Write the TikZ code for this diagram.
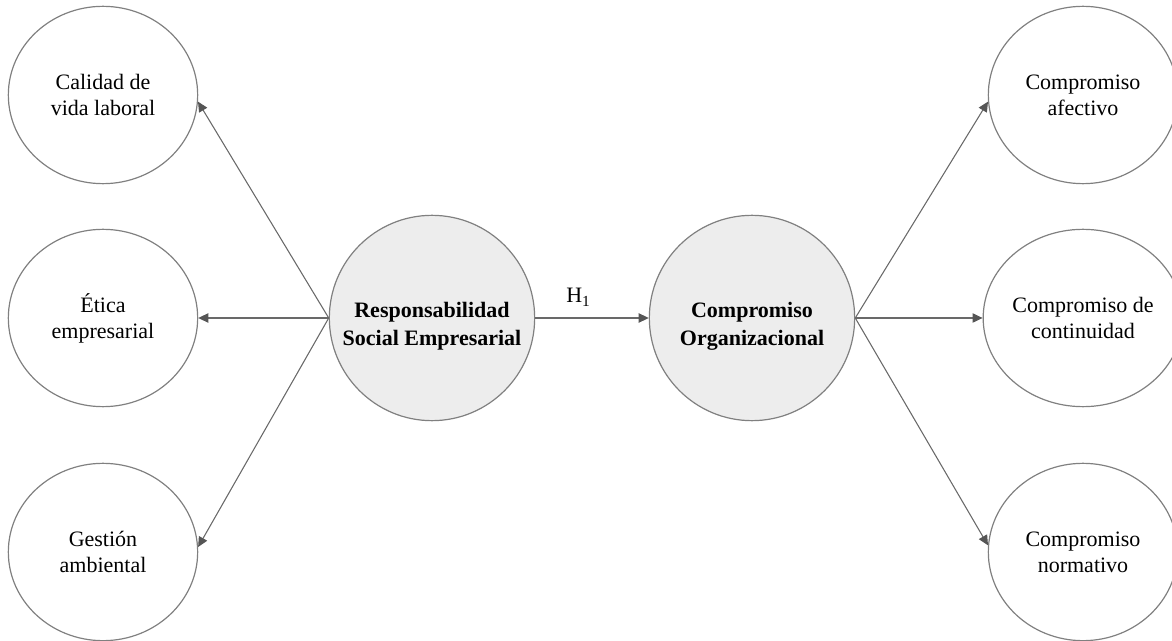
\documentclass[tikz,border=0pt]{standalone}
\usepackage{fontspec}
\setmainfont{Liberation Serif}
\usetikzlibrary{arrows.meta,shapes.geometric}
\definecolor{LineGray}{RGB}{105,105,105}
\definecolor{TipGray}{RGB}{85,85,85}
\definecolor{RingGray}{RGB}{128,128,128}
\definecolor{CoreFill}{RGB}{237,237,237}

\begin{document}
\begin{tikzpicture}[x=0.75pt,y=-0.75pt,
    dim/.style={ellipse, draw=RingGray, line width=0.9pt, minimum width=142pt,
      minimum height=133pt, inner sep=0pt, align=center,
      font=\fontsize{16.5}{19.5}\selectfont},
    core/.style={circle, draw=RingGray, fill=CoreFill, line width=0.9pt,
      minimum size=154pt, inner sep=0pt},
    coretext/.style={align=center, yshift=-6.5pt, inner sep=0pt,
      font=\bfseries\fontsize{16.5}{21}\selectfont},
    link/.style={draw=LineGray, line width=0.8pt,
      -{Triangle[length=7.5pt,width=7pt,color=TipGray]}}]
  \useasboundingbox (0,0) rectangle (1172,641);
  % central constructs
  \node[core, label={[coretext]center:{Responsabilidad\\Social Empresarial}}] (rse) at (432,318) {};
  \node[core, label={[coretext]center:{Compromiso\\Organizacional}}] (co) at (752,318) {};
  % dimensions of RSE
  \node[dim] (calidad) at (103,95) {Calidad de\\vida laboral};
  \node[dim] (etica) at (103,318) {Ética\\empresarial};
  \node[dim] (gestion) at (103,552) {Gestión\\ambiental};
  % dimensions of CO
  \node[dim] (afectivo) at (1083,95) {Compromiso\\afectivo};
  \node[dim] (continuidad) at (1083,318) {Compromiso de\\continuidad};
  \node[dim] (normativo) at (1083,552) {Compromiso\\normativo};
  % arrows
  \draw[link] (rse.west) -- (calidad.-4);
  \draw[link] (rse.west) -- (etica.east);
  \draw[link] (rse.west) -- (gestion.3);
  \draw[link] (rse.east) -- (co.west)
    node[above, pos=0.38, yshift=5pt, font=\fontsize{16.5}{19.5}\selectfont] (h1) {H\textsubscript{1}};
  \draw[link] (co.east) -- (afectivo.184);
  \draw[link] (co.east) -- (continuidad.west);
  \draw[link] (co.east) -- (normativo.176);
\end{tikzpicture}
\end{document}
